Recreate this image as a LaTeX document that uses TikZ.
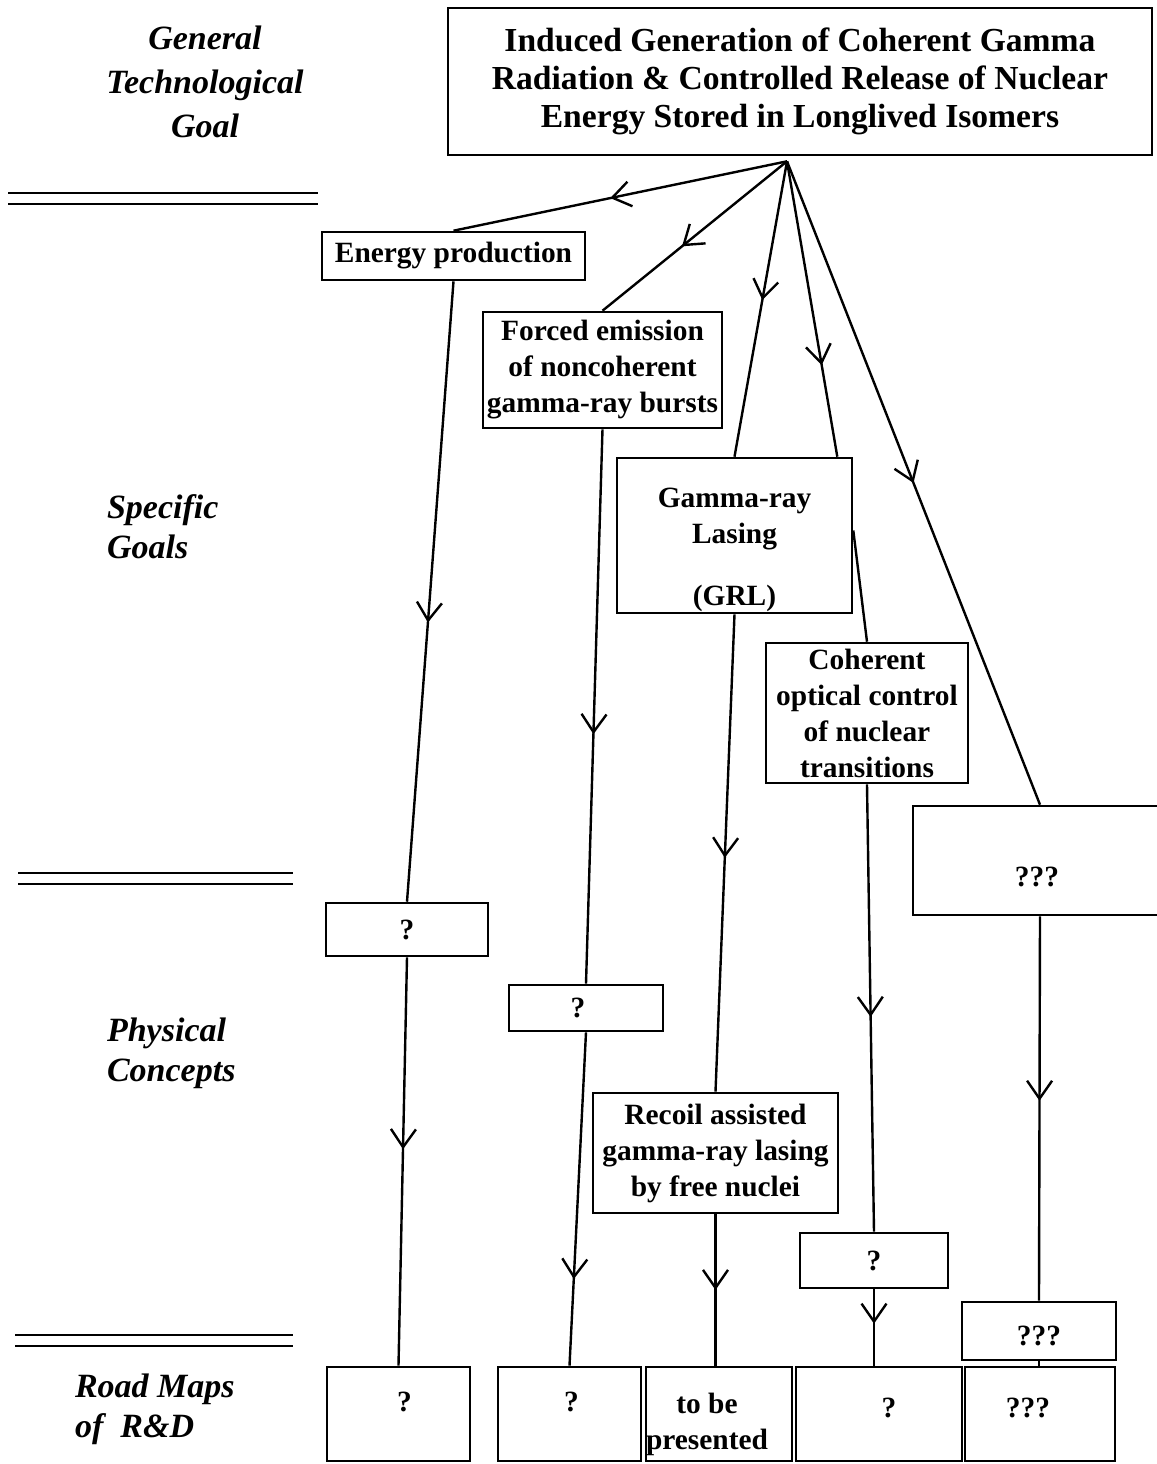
\documentclass[tikz,border=0pt]{standalone}
\usepackage{fontspec}
\setmainfont{Liberation Serif}
\usetikzlibrary{arrows.meta}
\usetikzlibrary{decorations.markings}

\begin{document}
\begin{tikzpicture}[x=0.5pt, y=-0.5pt,
	txt/.style={align=center, inner sep=1pt, font=\bfseries\fontsize{14.7}{18}\selectfont},
	box/.style={txt, draw, line width=1.3pt},
	side/.style={font=\bfseries\itshape\fontsize{17}{20}\selectfont},
	flow/.style={line width=1.2pt, decoration={markings,
		mark=at position #1 with {\arrow{Straight Barb[length=9pt, width=12.5pt]}}},
		postaction={decorate}},
	flow/.default=0.5]
	  \useasboundingbox (0,0) rectangle (1157,1464);

	  % levels on the left
	  \node[side, align=center, font=\bfseries\itshape\fontsize{17}{22}\selectfont] (lgoal) at (205,82) {General\\Technological\\Goal};
	  \node[side, align=left, anchor=west] (lspec) at (100,527) {Specific\\Goals};
	  \node[side, align=left, anchor=west] (lphys) at (100,1053) {Physical\\Concepts};
	  \node[side, align=left, anchor=west] (lroad) at (68,1409) {Road Maps\\of~~R\&D};
	  \foreach \y/\xa/\xb in {193/8/318, 873/18/293, 1335/15/293}
	    {\draw[line width=1.1pt] (\xa,\y) -- (\xb,\y);
	     \draw[line width=1.1pt] (\xa,\y+11) -- (\xb,\y+11);
	    }

	  % goal and specific goals
	  \node[box, minimum width=352pt, minimum height=73.5pt,
	    font=\bfseries\fontsize{16.8}{19}\selectfont] (goal) at (800,81.5)
	    {Induced Generation of Coherent Gamma\\Radiation \& Controlled Release of Nuclear\\Energy Stored in Longlived Isomers};
	  \coordinate (apex) at ([xshift=-6.5pt, yshift=-2.5pt]goal.south);
	  \node[box, minimum width=131.5pt, minimum height=24pt] (energy) at (453.5,256) {Energy production};
	  \node[box, minimum width=119.5pt, minimum height=58pt] (forced) at (602.5,370) {Forced emission\\of noncoherent\\gamma-ray bursts};
	  \node[box, minimum width=117.5pt, minimum height=77.5pt,
	    label={[txt, yshift=-7pt]center:{Gamma-ray\\Lasing\\[13pt](GRL)}}] (grl) at (734.5,535.5) {};
	  \node[box, minimum width=101pt, minimum height=70pt] (coherent) at (867,713) {Coherent\\optical control\\of nuclear\\transitions};
	  \node[box, minimum width=131pt, minimum height=54.5pt,
	    label={[txt, xshift=-3.5pt, yshift=-8pt]center:???}] (unk) at (1044,860.5) {};

	  % physical concepts
	  \node[box, minimum width=81pt, minimum height=26.5pt] (qa) at (407,929.5) {?};
	  \node[box, minimum width=77pt, minimum height=23pt,
	    label={[txt, xshift=-4pt]center:?}] (qb) at (586,1008) {};
	  \node[box, minimum width=122.5pt, minimum height=60pt] (recoil) at (715.5,1153) {Recoil assisted\\gamma-ray lasing\\by free nuclei};
	  \node[box, minimum width=74pt, minimum height=27.5pt] (qc) at (874,1260.5) {?};
	  \node[box, minimum width=77pt, minimum height=29pt,
	    label={[txt, yshift=-2.5pt]center:???}] (unkb) at (1039,1331) {};

	  % road maps
	  \foreach \name/\x/\w/\dx/\dy/\t in {ra/398.5/71.5/3/6/?, rb/569.5/71.5/1/6/?,
	      rc/719/73/-6/-5/{to be\\presented}, rd/879/83/5/3/?, re/1040/75/-6/3/???}
	    \node[box, minimum width=\w pt, minimum height=47pt,
	      label={[txt, xshift=\dx pt, yshift=\dy pt]center:{\t}}] (\name) at (\x,1414) {};

	  \draw[flow=0.53] (apex) -- (energy.north);
	  \draw[flow=0.57] (apex) -- (forced.north);
	  \draw[flow=0.47] (apex) -- (grl.north);
	  \draw[flow=0.69] (apex) -- ([xshift=-8pt]grl.north east);
	  \draw[flow=0.5] (apex) -- ([xshift=-2pt]unk.north);
	  \draw[flow=0.55] (energy.south) -- (qa.north);
	  \draw[flow=0.55] (forced.south) -- (qb.north);
	  \draw[flow=0.51] (grl.south) -- (recoil.north);
	  \draw[line width=1.2pt] ([yshift=2.5pt]grl.east) -- (coherent.north);
	  \draw[flow=0.52] (coherent.south) -- (qc.north);
	  \draw[flow=0.48] ([xshift=-2pt]unk.south) -- (unkb.north);
	  \draw[flow=0.47] (qa.south) -- (ra.north);
	  \draw[flow=0.74] (qb.south) -- (rb.north);
	  \draw[flow=0.5] (recoil.south) -- (recoil.south |- rc.north);
	  \draw[flow=0.45] (qc.south) -- (qc.south |- rd.north);
	  \draw[line width=1.2pt] (unkb.south) -- (unkb.south |- re.north);
\end{tikzpicture}
\end{document}
